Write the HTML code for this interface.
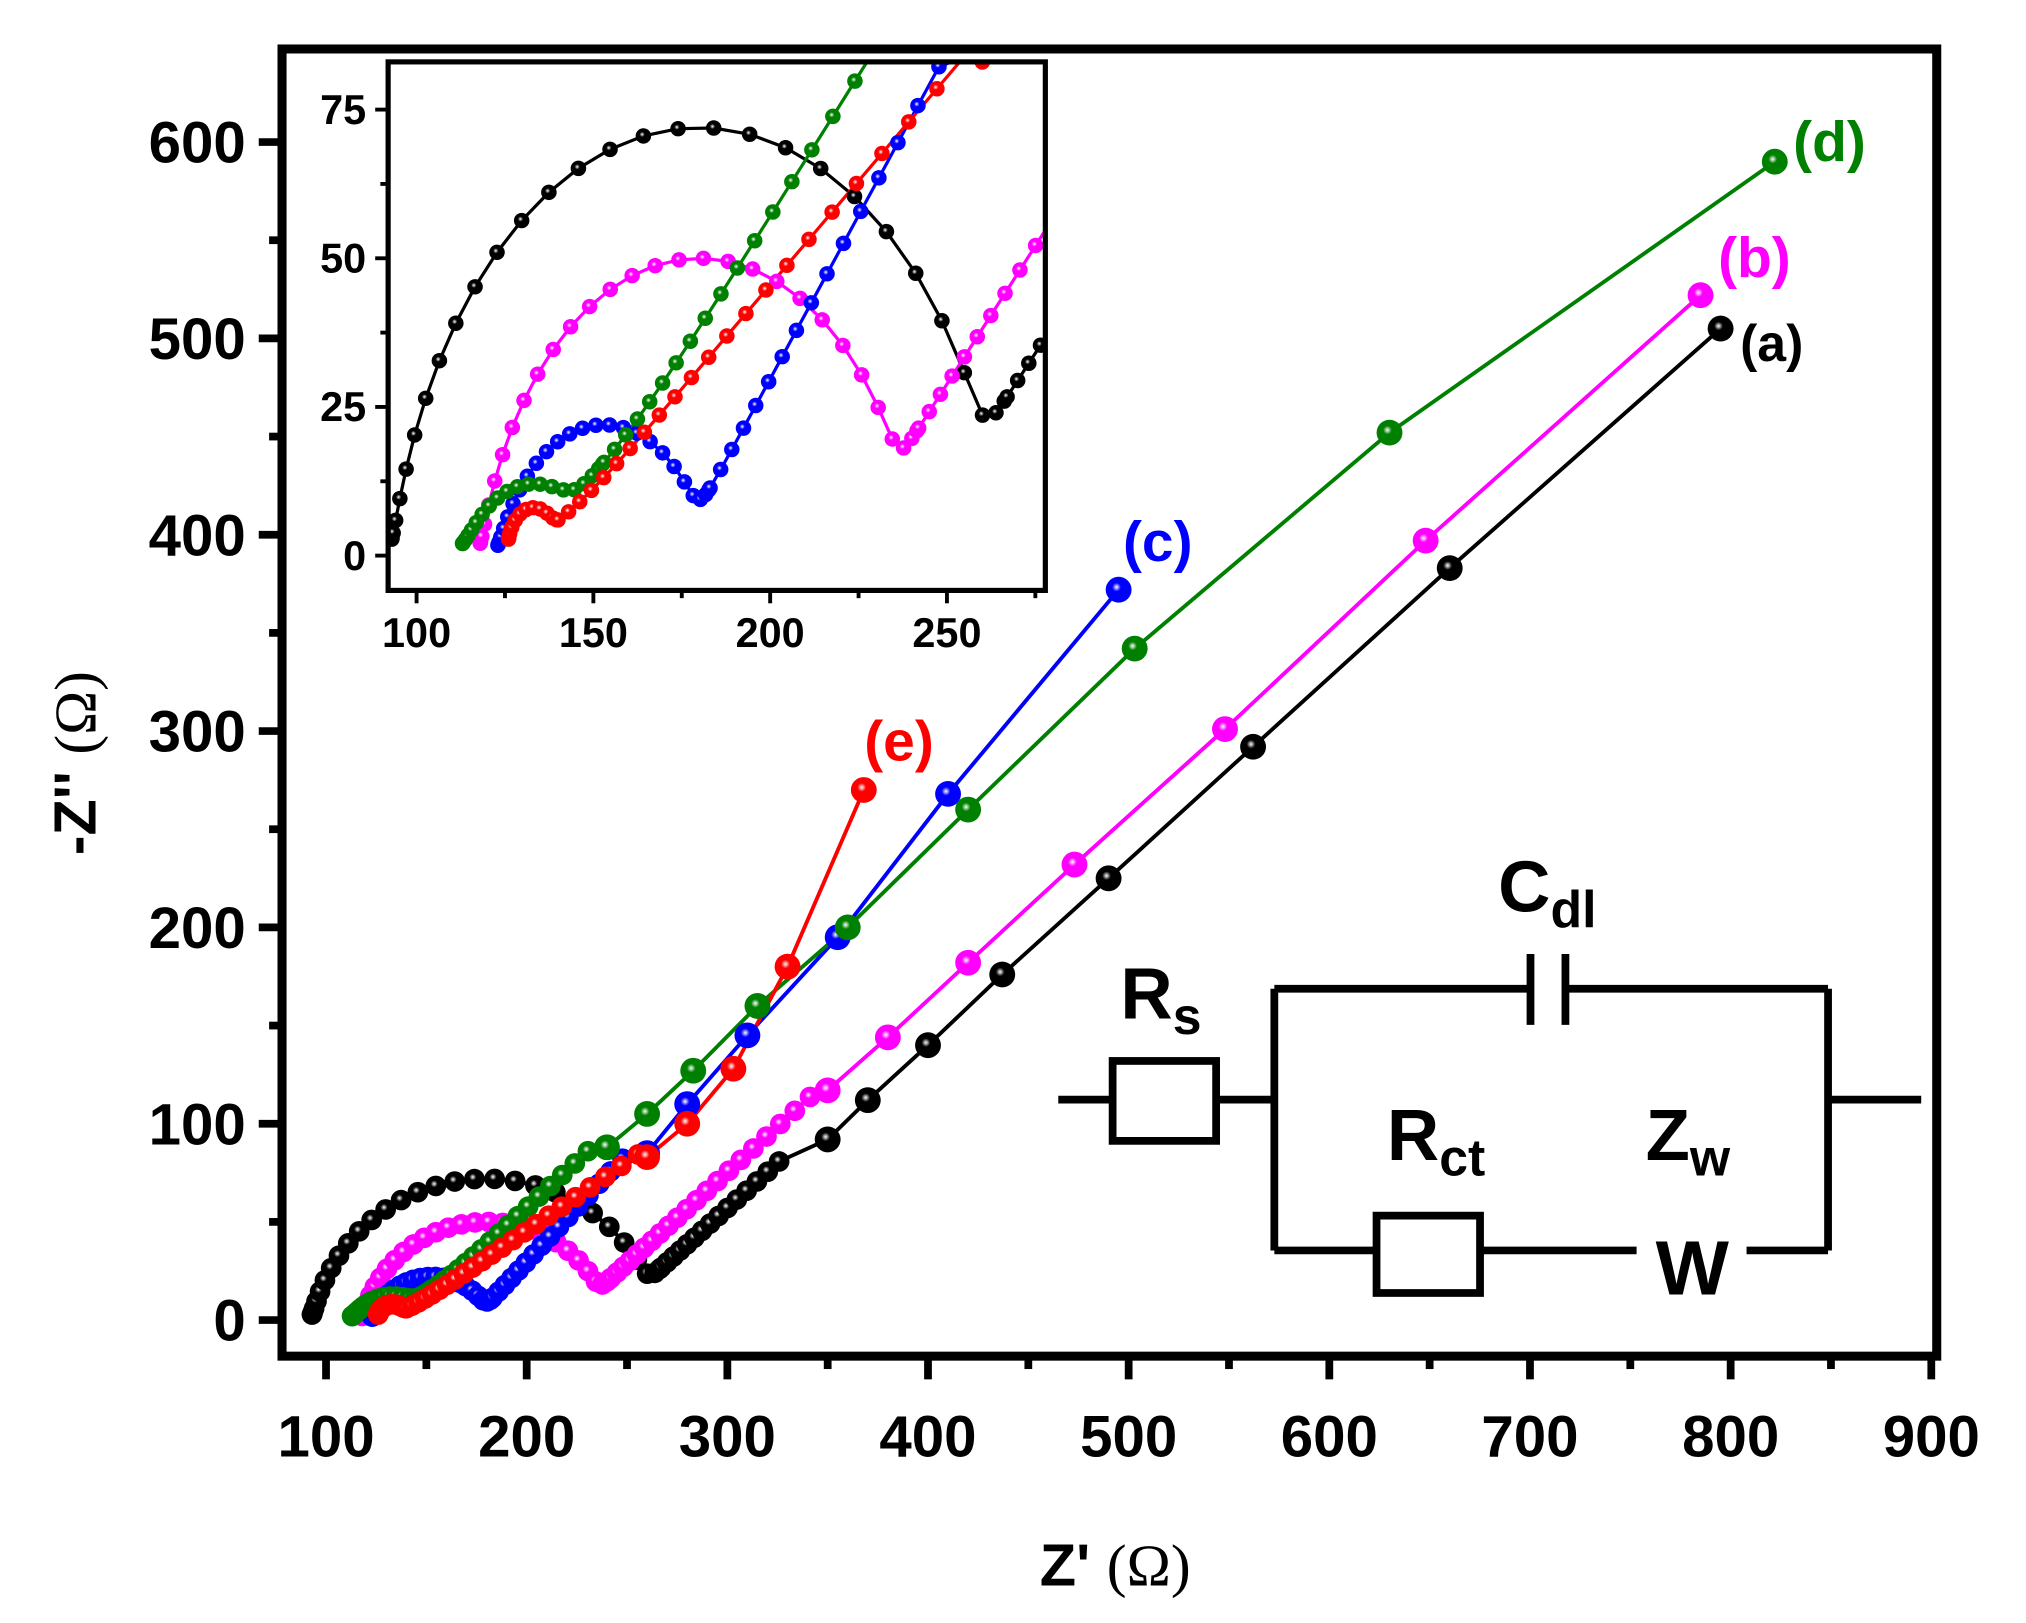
<!DOCTYPE html>
<html><head><meta charset="utf-8"><style>
html,body{margin:0;padding:0;background:#fff;}
svg{display:block}
text{font-family:"Liberation Sans",Arial,sans-serif;font-weight:bold;}
</style></head><body>
<svg id="s" xmlns="http://www.w3.org/2000/svg" width="2026" height="1623" viewBox="0 0 1566 1259" preserveAspectRatio="none">
<defs>
<clipPath id="ic"><rect x="300" y="48" width="508" height="410"/></clipPath>
<clipPath id="mc"><rect x="218" y="38" width="1279" height="1014"/></clipPath>
</defs>
<rect width="1566" height="1259" fill="#fff"/>
<g id="main" clip-path="url(#mc)"></g>
<rect x="218" y="38" width="1279" height="1014" fill="none" stroke="#000" stroke-width="7"/>
<g id="ticks" stroke="#000" stroke-width="6"></g>
<g id="labels" font-size="45" fill="#000"></g>
<rect x="300" y="48" width="508" height="410" fill="#fff"/>
<g id="inset" clip-path="url(#ic)"></g>
<rect x="300" y="48" width="508" height="410" fill="none" stroke="#000" stroke-width="4"/>
<g id="iticks" stroke="#000" stroke-width="3"></g>
<g id="ilabels" font-size="32" font-weight="normal" fill="#000"></g>
<text x="862" y="1230" font-size="46" text-anchor="middle">Z' <tspan font-family="Liberation Serif,serif" font-weight="normal">(Ω)</tspan></text>
<text transform="translate(74,592) rotate(-90)" font-size="46" text-anchor="middle">-Z'' <tspan font-family="Liberation Serif,serif" font-weight="normal">(Ω)</tspan></text>
<text x="1345" y="280" font-size="40" fill="#000">(a)</text>
<text x="1328" y="215" font-size="44" fill="#ff00ff">(b)</text>
<text x="868" y="435" font-size="44" fill="#0000ff">(c)</text>
<text x="1386" y="125" font-size="44" fill="#008000">(d)</text>
<text x="668" y="590" font-size="44" fill="#ff0000">(e)</text>
<g stroke="#000" stroke-width="6" fill="none">
<path d="M818 853 H858 M940 853 H985 M985 767 V970 M985 767 H1183 M1210 767 H1413 M1413 767 V970 M1413 853 H1485 M985 970 H1062 M1145 970 H1265 M1350 970 H1413"/>
<rect x="860" y="823" width="80" height="62"/>
<rect x="1064" y="943" width="80" height="60"/>
<path d="M1183 740 V795 M1210 740 V795"/>
</g>
<g font-size="56" fill="#000">
<text x="866" y="790">R<tspan font-size="40" dy="12">s</tspan></text>
<text x="1158" y="707">C<tspan font-size="40" dy="12">dl</tspan></text>
<text x="1072" y="900">R<tspan font-size="40" dy="12">ct</tspan></text>
<text x="1272" y="900">Z<tspan font-size="40" dy="12">w</tspan></text>
<text x="1308" y="1004" text-anchor="middle" font-size="60">W</text>
</g>
</svg>
<script>
const NS="http://www.w3.org/2000/svg";
function el(p,t,a){const e=document.createElementNS(NS,t);for(const k in a)e.setAttribute(k,a[k]);p.appendChild(e);return e;}
const MX=z=>252+(z-100)*1.551, MY=v=>1024-v*1.523;
const IX=z=>322+(z-100)*2.733, IY=v=>431-v*4.613;
function sp(x){return x>30?x:Math.log(1+Math.exp(x));}
const S=[
{c:"#000000",x0:93,cx:180,h:87,H:72,N:30,p:1.3,sl:0.92,xs:238,w:5,k:4,cut:325,sparse:[[350,92],[370,112],[400,140],[437,176],[490,225],[562,292],[660,383],[795,505]]},
{c:"#ff00ff",x0:118,cx:180,h:62,H:50,N:30,p:1.2,sl:0.93,xs:219,w:5,k:3,cut:340,sparse:[[350,117],[380,144],[420,182],[473,232],[548,301],[648,397],[785,522]]},
{c:"#0000ff",x0:123,cx:153,h:30,H:22,N:26,p:1.2,sl:1.1,xs:173,w:4,k:2.5,cut:245,sparse:[[260,85],[280,110],[310,145],[355,195],[410,268],[495,372]]},
{c:"#008000",x0:113,cx:133,h:20,H:12,N:22,p:1.4,sl:0.95,xs:140,w:12,k:2,cut:228,sparse:[[240,88],[260,105],[283,127],[315,160],[360,200],[420,260],[503,342],[630,452],[822,590]]},
{c:"#ff0000",x0:126,cx:133,h:7,H:8,N:12,p:1.3,sl:0.7,xs:135,w:8,k:1.5,cut:248,sparse:[[260,83],[280,100],[303,128],[330,180],[368,270]]}
];
S.forEach(s=>{s.R=(s.h*s.h+s.H*s.H)/(2*s.H);s.d=s.R-s.H;});
function arc(s,x){const q=s.R*s.R-(x-s.cx)*(x-s.cx);if(q<=0)return 0;return Math.max(0,Math.sqrt(q)-s.d);}
function tail(s,x){return s.sl*s.w*sp((x-s.xs)/s.w);}
function f(s,x){const a=arc(s,x),t=tail(s,x),k=s.k;const m=Math.max(a,t);return m+k*Math.log(Math.exp((a-m)/k)+Math.exp((t-m)/k));}
const defs=document.querySelector("defs");
S.forEach((s,i)=>{
 const g=el(defs,"radialGradient",{id:"g"+i,cx:"0.42",cy:"0.4",r:"0.6"});
 el(g,"stop",{offset:"0","stop-color":"#fff"});el(g,"stop",{offset:"0.28","stop-color":s.c});el(g,"stop",{offset:"1","stop-color":s.c});
 let pts=[];
 const xe=s.cx+s.h;
 for(let k=0;k<=s.N;k++){const t=Math.PI*Math.pow(k/s.N,s.p);const x=s.x0+(xe-s.x0)/2*(1-Math.cos(t));pts.push([x,f(s,x)]);}
 let x=xe,st=3;
 while(x<s.cut){x+=st;st*=1.05;pts.push([x,f(s,x)]);}
 s.dense=pts;s.all=pts.concat(s.sparse);
});
const main=document.getElementById("main"),inset=document.getElementById("inset");
S.forEach(s=>el(main,"polyline",{points:s.all.map(p=>MX(p[0])+","+MY(p[1])).join(" "),fill:"none",stroke:s.c,"stroke-width":3}));
S.forEach((s,i)=>{
 s.dense.forEach(p=>el(main,"circle",{cx:MX(p[0]),cy:MY(p[1]),r:8,fill:"url(#g"+i+")"}));
 s.sparse.forEach(p=>el(main,"circle",{cx:MX(p[0]),cy:MY(p[1]),r:10,fill:"url(#g"+i+")"}));
});
S.forEach(s=>el(inset,"polyline",{points:s.all.filter(p=>p[0]<330).map(p=>IX(p[0])+","+IY(p[1])).join(" "),fill:"none",stroke:s.c,"stroke-width":2.5}));
S.forEach((s,i)=>s.all.filter(p=>p[0]<300).forEach(p=>el(inset,"circle",{cx:IX(p[0]),cy:IY(p[1]),r:6,fill:"url(#g"+i+")"})));
const T=document.getElementById("ticks"),L=document.getElementById("labels");
for(let z=100;z<=900;z+=50){const x=MX(z),maj=z%100==0;el(T,"line",{x1:x,y1:1052,x2:x,y2:maj?1070:1062});
 if(maj){const t=el(L,"text",{x:x,y:1130,"text-anchor":"middle"});t.textContent=z;}}
for(let v=0;v<=600;v+=50){const y=MY(v),maj=v%100==0;el(T,"line",{x1:218,y1:y,x2:maj?200:208,y2:y});
 if(maj){const t=el(L,"text",{x:190,y:y+16,"text-anchor":"end"});t.textContent=v;}}
const IT=document.getElementById("iticks"),IL=document.getElementById("ilabels");
for(let z=100;z<=275;z+=25){const x=IX(z),maj=z%50==0;el(IT,"line",{x1:x,y1:458,x2:x,y2:maj?468:464});
 if(maj){const t=el(IL,"text",{x:x,y:502,"text-anchor":"middle"});t.textContent=z;}}
for(let v=0;v<=75;v+=12.5){const y=IY(v),maj=v%25==0;el(IT,"line",{x1:300,y1:y,x2:maj?290:294,y2:y});
 if(maj){const t=el(IL,"text",{x:283,y:y+11,"text-anchor":"end"});t.textContent=v;}}
</script>
</body></html>
